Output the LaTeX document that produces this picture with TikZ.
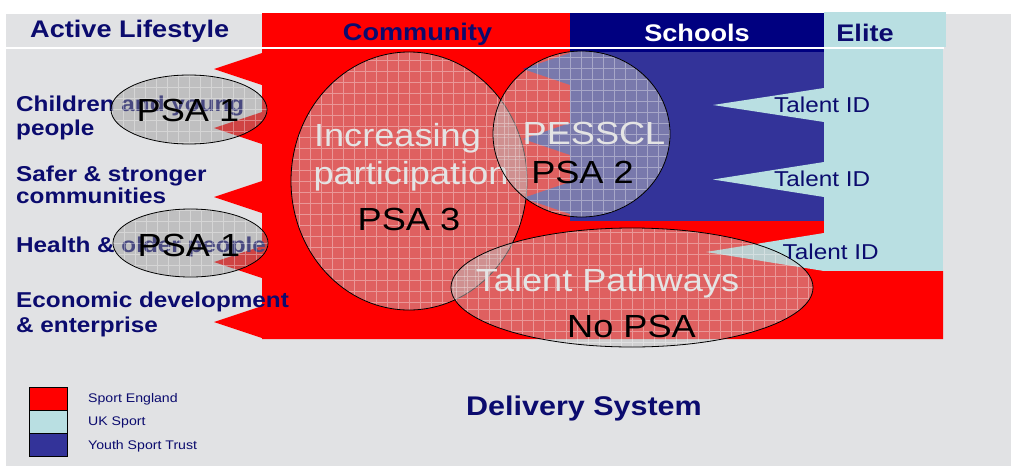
\documentclass[tikz,border=0pt]{standalone}
\usepackage{fontspec}
\setmainfont{Liberation Sans}[FakeStretch=1.13]
\usetikzlibrary{shapes.geometric}

\definecolor{bgGray}{HTML}{E1E2E4}
\definecolor{seRed}{HTML}{FF0000}
\definecolor{hdNavy}{HTML}{000080}
\definecolor{ystBlue}{HTML}{333399}
\definecolor{ukCyan}{HTML}{B9DFE2}
\definecolor{txtNavy}{HTML}{0B0B6E}
\definecolor{paleTxt}{HTML}{E4E4E4}
\definecolor{ovlGray}{HTML}{C0C0C0}
\definecolor{psaGray}{HTML}{969696}

\newcommand\fsz[1]{\fontsize{#1}{#1}\selectfont}

\begin{document}
\begin{tikzpicture}[x=1pt,y=-1pt,
  hdr/.style={font=\fsz{24}\bfseries, text=txtNavy, anchor=base, inner sep=0},
  lbl/.style={font=\fsz{21.5}\bfseries, text=txtNavy, anchor=base west, inner sep=0},
  tid/.style={font=\fsz{21.5}, text=txtNavy, anchor=base west, inner sep=0},
  big/.style={font=\fsz{32}, anchor=base, inner sep=0},
  theme/.style={big, text=paleTxt},
  psa/.style={big, text=black},
  legtxt/.style={font=\fsz{12.5}, text=txtNavy, anchor=base west, inner sep=0},
  legbox/.style={draw=black, line width=0.9pt, minimum width=38pt, minimum height=23pt, inner sep=0, anchor=north west},
  gridded/.style={path picture={\draw[white, draw opacity=0.35, line width=0.55pt, step=11pt]
      (path picture bounding box.south west) grid (path picture bounding box.north east);}},
  bubble/.style={ellipse, draw=black, line width=0.8pt, fill=ovlGray, fill opacity=0.5, inner sep=0, gridded},
  psabubble/.style={ellipse, draw=black, line width=0.8pt, fill=psaGray, fill opacity=0.45, inner sep=0, gridded},
]

% canvas
\fill[white] (0,0) rectangle (1011,466);
\fill[bgGray] (6,14) rectangle (1011,466);
\useasboundingbox (0,0) rectangle (1011,466);

% Sport England (community) body with its arrows
\fill[seRed] (262,49) -- (570,49) -- (570,221) -- (824,221) -- (824,271)
  -- (943,271) -- (943,339) -- (262,339) -- cycle;
\foreach \t in {69,128,197,262,322}
  \fill[seRed] (262,\t-16) -- (214,\t) -- (262,\t+16) -- cycle;

% Youth Sport Trust (schools) body with its arrows
\fill[ystBlue] (570,51) rectangle (824,221);
\foreach \t in {69,139,198}
  \fill[ystBlue] (570,\t-16) -- (523,\t) -- (570,\t+16) -- cycle;

% UK Sport (elite) body with talent ID arrows
\fill[ukCyan] (824,49) rectangle (943,271);
\fill[ukCyan] (824,88) -- (713,105) -- (824,122) -- cycle;
\fill[ukCyan] (824,162) -- (713,179.5) -- (824,197) -- cycle;
\fill[ukCyan] (824,233) -- (706,252) -- (824,271) -- cycle;

% header bands
\fill[seRed] (262,13) rectangle (570,46.5);
\fill[hdNavy] (570,13) rectangle (824,51.5);
\fill[ukCyan] (824,12) rectangle (946,46.5);
\fill[white] (6,46.5) rectangle (944,48.8);

% header titles
\node[hdr, anchor=base west] (hActive) at (30,37.3) {Active Lifestyle};
\node[hdr] (hComm) at (417.5,40) {Community};
\node[hdr, text=white] (hSchools) at (697,41.7) {Schools};
\node[hdr] (hElite) at (865,41.7) {Elite};

% outcome labels
\node[lbl] (lChildA) at (16,111.7) {Children and young};
\node[lbl] (lChildB) at (16,135) {people};
\node[lbl] (lSaferA) at (16,181.7) {Safer \& stronger};
\node[lbl] (lSaferB) at (16,203.3) {communities};
\node[lbl] (lHealth) at (16,252.3) {Health \& older people};
\node[lbl] (lEconA) at (16,307.3) {Economic development};
\node[lbl] (lEconB) at (16,332.7) {\& enterprise};

% talent ID labels
\node[tid] (tid1) at (774,112.7) {Talent ID};
\node[tid] (tid2) at (774,186.7) {Talent ID};

% PSA 1 bubbles
\node[psabubble, minimum width=156pt, minimum height=69pt] (psa1a) at (189,109.5) {};
\node[psa] (psa1aT) at (188,121.7) {PSA 1};
\node[psabubble, minimum width=155pt, minimum height=68pt] (psa1b) at (190.5,243) {};
\node[psa] (psa1bT) at (189,256) {PSA 1};

% increasing participation
\node[bubble, minimum width=236pt, minimum height=258pt] (psa3) at (409,181) {};
\node[theme] (incA) at (397.5,146.7) {Increasing};
\node[theme] (incB) at (411,184) {participation};
\node[psa] (psa3T) at (409,230) {PSA 3};

% PESSCL
\node[bubble, minimum width=177pt, minimum height=166pt] (pesscl) at (581.5,134) {};
\node[theme] (pessclT) at (594,144.3) {PESSCL};
\node[psa] (psa2T) at (582.5,183.3) {PSA 2};

% talent pathways
\node[bubble, minimum width=362pt, minimum height=119pt] (talent) at (632,287.5) {};
\node[theme] (talentT) at (607.5,291.7) {Talent Pathways};
\node[psa] (nopsaT) at (631.5,337) {No PSA};

\node[tid] (tid3) at (782.5,259.3) {Talent ID};

% legend
\node[legbox, fill=seRed] (kSE) at (29,387) {};
\node[legbox, fill=ukCyan] (kUK) at (29,410) {};
\node[legbox, fill=ystBlue] (kYST) at (29,433) {};
\node[legtxt] (kSEt) at (88,402.7) {Sport England};
\node[legtxt] (kUKt) at (88,425.7) {UK Sport};
\node[legtxt] (kYSTt) at (88,449.3) {Youth Sport Trust};

\node[font=\fsz{27}\bfseries, text=txtNavy, anchor=base, inner sep=0] (deliv) at (584,415) {Delivery System};

\end{tikzpicture}
\end{document}
